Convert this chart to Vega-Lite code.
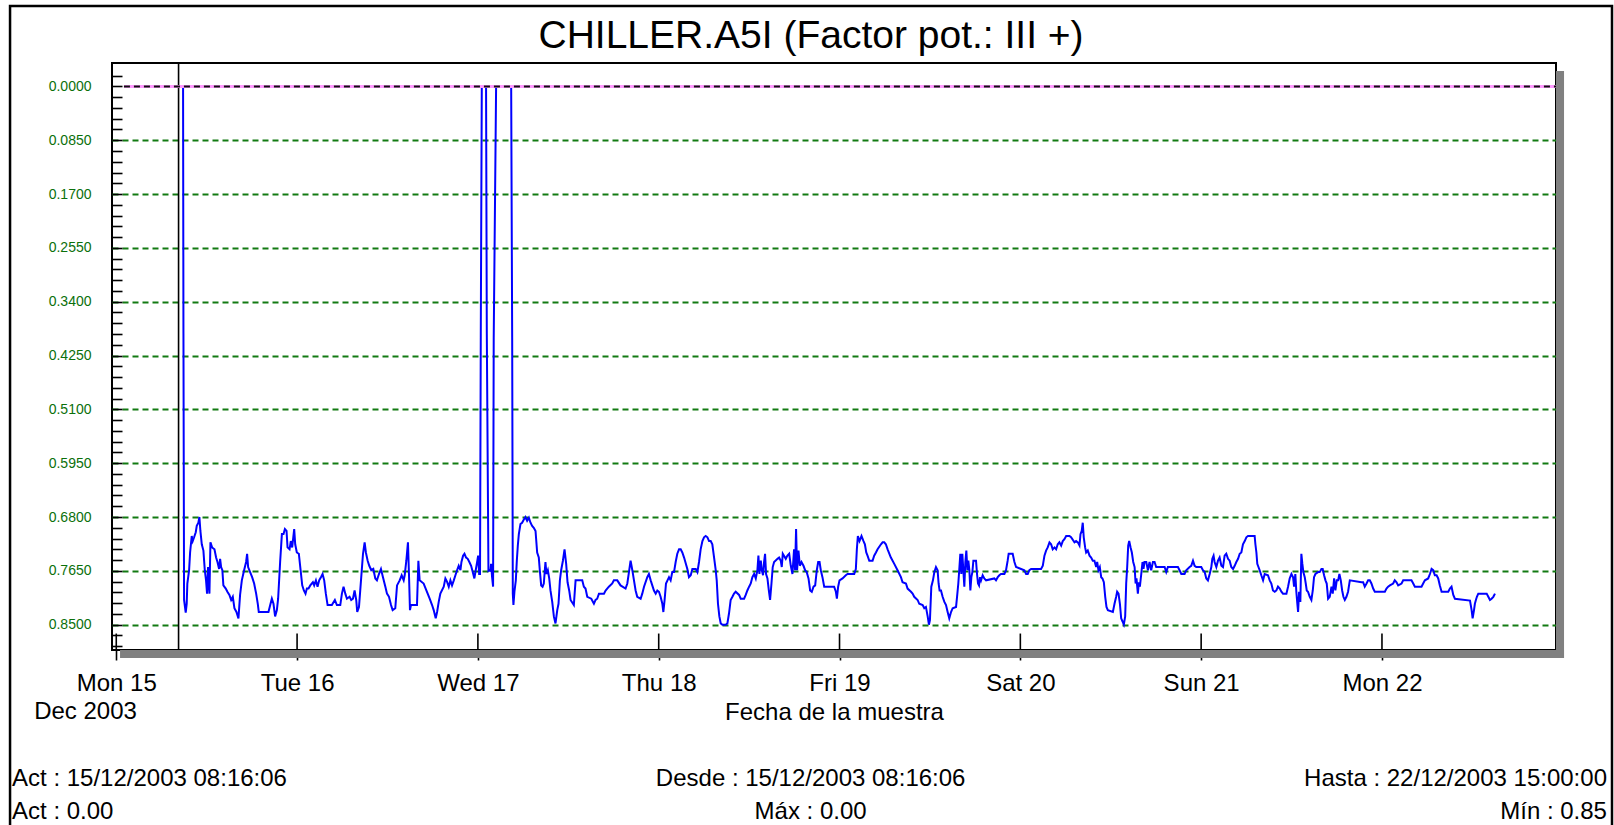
{
  "$schema": "https://vega.github.io/schema/vega-lite/v6.json",
  "autosize": {"type": "none"},
  "width": 1444,
  "height": 587,
  "padding": {"left": 112, "top": 63, "right": 58, "bottom": 175},
  "background": "white",
  "title": {"text": "CHILLER.A5I (Factor pot.: III +)", "fontSize": 39, "fontWeight": "normal", "font": "Liberation Sans", "color": "black", "anchor": "middle", "frame": "bounds", "baseline": "alphabetic", "offset": -82},
  "config": {
    "font": "Liberation Sans",
    "view": {"stroke": "black", "strokeWidth": 2}
  },
  "layer": [
    {
      "data": {"values": [{}]},
      "mark": {"type": "rect", "color": "#808080", "clip": false},
      "encoding": {
        "x": {"datum": {"year": 2003, "month": 12, "date": 22, "hours": 23, "minutes": 6}, "type": "temporal"},
        "x2": {"datum": {"year": 2003, "month": 12, "date": 23, "hours": 0, "minutes": 10}},
        "y": {"datum": -0.0244, "type": "quantitative"},
        "y2": {"datum": 0.9026}
      }
    },
    {
      "data": {"values": [{}]},
      "mark": {"type": "rect", "color": "#808080", "clip": false},
      "encoding": {
        "x": {"datum": {"year": 2003, "month": 12, "date": 15, "hours": 0, "minutes": 30}, "type": "temporal"},
        "x2": {"datum": {"year": 2003, "month": 12, "date": 23, "hours": 0, "minutes": 10}},
        "y": {"datum": 0.89, "type": "quantitative"},
        "y2": {"datum": 0.9026}
      }
    },
    {
      "data": {"values": [{}]},
      "mark": {"type": "rect", "fill": null, "fillOpacity": 0, "stroke": "black", "strokeWidth": 2.5, "clip": false},
      "encoding": {
        "x": {"datum": {"year": 2003, "month": 12, "date": 14, "hours": 9, "minutes": 54}, "type": "temporal"},
        "x2": {"datum": {"year": 2003, "month": 12, "date": 23, "hours": 6, "minutes": 32}},
        "y": {"datum": -0.127, "type": "quantitative"},
        "y2": {"datum": 1.174}
      }
    },
    {
      "data": {"values": [{"d": "2003-12-15T00:00"}, {"d": "2003-12-16T00:00"}, {"d": "2003-12-17T00:00"}, {"d": "2003-12-18T00:00"}, {"d": "2003-12-19T00:00"}, {"d": "2003-12-20T00:00"}, {"d": "2003-12-21T00:00"}, {"d": "2003-12-22T00:00"}]},
      "mark": {"type": "rule", "color": "black", "strokeWidth": 1.6, "clip": false},
      "encoding": {
        "x": {"field": "d", "type": "temporal"},
        "y": {"datum": 0.864, "type": "quantitative"},
        "y2": {"datum": 0.89}
      }
    },
    {
      "data": {"values": [{}]},
      "mark": {"type": "rule", "color": "black", "strokeWidth": 1.6},
      "encoding": {
        "x": {"datum": {"year": 2003, "month": 12, "date": 15, "hours": 8, "minutes": 16, "seconds": 6}, "type": "temporal"}
      }
    },
    {
      "data": {"values": [
        {"t":"2003-12-15T08:16:06","v":0},{"t":"2003-12-15T08:52","v":0},{"t":"2003-12-15T08:55","v":0.39},{"t":"2003-12-15T09:00","v":0.811},{"t":"2003-12-15T09:13","v":0.831},{"t":"2003-12-15T09:21","v":0.817},{"t":"2003-12-15T09:26","v":0.785},{"t":"2003-12-15T09:40","v":0.764},{"t":"2003-12-15T09:48","v":0.736},{"t":"2003-12-15T10:01","v":0.71},{"t":"2003-12-15T10:09","v":0.718},{"t":"2003-12-15T10:20","v":0.712},{"t":"2003-12-15T10:33","v":0.704},{"t":"2003-12-15T10:41","v":0.694},{"t":"2003-12-15T10:54","v":0.689},{"t":"2003-12-15T11:02","v":0.68},{"t":"2003-12-15T11:10","v":0.702},{"t":"2003-12-15T11:21","v":0.723},{"t":"2003-12-15T11:34","v":0.733},{"t":"2003-12-15T11:45","v":0.764},{"t":"2003-12-15T11:55","v":0.78},{"t":"2003-12-15T12:03","v":0.801},{"t":"2003-12-15T12:11","v":0.759},{"t":"2003-12-15T12:22","v":0.801},{"t":"2003-12-15T12:30","v":0.72},{"t":"2003-12-15T12:43","v":0.728},{"t":"2003-12-15T13:02","v":0.731},{"t":"2003-12-15T13:15","v":0.744},{"t":"2003-12-15T13:26","v":0.751},{"t":"2003-12-15T13:39","v":0.762},{"t":"2003-12-15T13:47","v":0.746},{"t":"2003-12-15T13:55","v":0.759},{"t":"2003-12-15T14:05","v":0.764},{"t":"2003-12-15T14:13","v":0.788},{"t":"2003-12-15T14:32","v":0.793},{"t":"2003-12-15T14:45","v":0.798},{"t":"2003-12-15T15:01","v":0.803},{"t":"2003-12-15T15:15","v":0.811},{"t":"2003-12-15T15:28","v":0.806},{"t":"2003-12-15T15:41","v":0.824},{"t":"2003-12-15T15:57","v":0.83},{"t":"2003-12-15T16:13","v":0.84},{"t":"2003-12-15T16:26","v":0.803},{"t":"2003-12-15T16:40","v":0.78},{"t":"2003-12-15T16:58","v":0.764},{"t":"2003-12-15T17:14","v":0.751},{"t":"2003-12-15T17:22","v":0.738},{"t":"2003-12-15T17:30","v":0.759},{"t":"2003-12-15T17:46","v":0.767},{"t":"2003-12-15T18:02","v":0.775},{"t":"2003-12-15T18:18","v":0.785},{"t":"2003-12-15T18:34","v":0.801},{"t":"2003-12-15T18:47","v":0.817},{"t":"2003-12-15T18:55","v":0.83},{"t":"2003-12-15T20:12","v":0.83},{"t":"2003-12-15T20:26","v":0.819},{"t":"2003-12-15T20:39","v":0.809},{"t":"2003-12-15T20:52","v":0.817},{"t":"2003-12-15T21:05","v":0.837},{"t":"2003-12-15T21:19","v":0.827},{"t":"2003-12-15T21:29","v":0.809},{"t":"2003-12-15T21:45","v":0.751},{"t":"2003-12-15T21:59","v":0.707},{"t":"2003-12-15T22:12","v":0.707},{"t":"2003-12-15T22:23","v":0.699},{"t":"2003-12-15T22:36","v":0.702},{"t":"2003-12-15T22:44","v":0.728},{"t":"2003-12-15T23:00","v":0.731},{"t":"2003-12-15T23:10","v":0.718},{"t":"2003-12-15T23:21","v":0.728},{"t":"2003-12-15T23:37","v":0.699},{"t":"2003-12-15T23:45","v":0.723},{"t":"2003-12-15T23:58","v":0.736},
        {"t":"2003-12-16T00:14","v":0.738},{"t":"2003-12-16T00:28","v":0.764},{"t":"2003-12-16T00:41","v":0.788},{"t":"2003-12-16T00:54","v":0.796},{"t":"2003-12-16T01:07","v":0.801},{"t":"2003-12-16T01:18","v":0.793},{"t":"2003-12-16T01:31","v":0.793},{"t":"2003-12-16T01:45","v":0.788},{"t":"2003-12-16T02:06","v":0.783},{"t":"2003-12-16T02:16","v":0.788},{"t":"2003-12-16T02:30","v":0.78},{"t":"2003-12-16T02:43","v":0.79},{"t":"2003-12-16T02:56","v":0.78},{"t":"2003-12-16T03:10","v":0.775},{"t":"2003-12-16T03:23","v":0.77},{"t":"2003-12-16T03:36","v":0.78},{"t":"2003-12-16T03:49","v":0.801},{"t":"2003-12-16T04:03","v":0.819},{"t":"2003-12-16T04:37","v":0.819},{"t":"2003-12-16T05:01","v":0.811},{"t":"2003-12-16T05:17","v":0.819},{"t":"2003-12-16T05:44","v":0.819},{"t":"2003-12-16T05:57","v":0.801},{"t":"2003-12-16T06:10","v":0.79},{"t":"2003-12-16T06:24","v":0.801},{"t":"2003-12-16T06:37","v":0.809},{"t":"2003-12-16T06:58","v":0.806},{"t":"2003-12-16T07:11","v":0.811},{"t":"2003-12-16T07:25","v":0.809},{"t":"2003-12-16T07:38","v":0.796},{"t":"2003-12-16T07:51","v":0.811},{"t":"2003-12-16T07:59","v":0.83},{"t":"2003-12-16T08:13","v":0.822},{"t":"2003-12-16T08:29","v":0.78},{"t":"2003-12-16T08:45","v":0.738},{"t":"2003-12-16T08:58","v":0.72},{"t":"2003-12-16T09:08","v":0.736},{"t":"2003-12-16T09:22","v":0.749},{"t":"2003-12-16T09:35","v":0.757},{"t":"2003-12-16T09:51","v":0.764},{"t":"2003-12-16T10:07","v":0.762},{"t":"2003-12-16T10:23","v":0.777},{"t":"2003-12-16T10:36","v":0.78},{"t":"2003-12-16T10:52","v":0.77},{"t":"2003-12-16T11:08","v":0.762},{"t":"2003-12-16T11:24","v":0.775},{"t":"2003-12-16T11:43","v":0.79},{"t":"2003-12-16T11:56","v":0.801},{"t":"2003-12-16T12:12","v":0.806},{"t":"2003-12-16T12:28","v":0.819},{"t":"2003-12-16T12:41","v":0.827},{"t":"2003-12-16T13:02","v":0.824},{"t":"2003-12-16T13:16","v":0.788},{"t":"2003-12-16T13:37","v":0.78},{"t":"2003-12-16T13:53","v":0.772},{"t":"2003-12-16T14:09","v":0.78},{"t":"2003-12-16T14:17","v":0.772},{"t":"2003-12-16T14:30","v":0.749},{"t":"2003-12-16T14:43","v":0.72},{"t":"2003-12-16T14:51","v":0.77},{"t":"2003-12-16T14:59","v":0.827},{"t":"2003-12-16T15:07","v":0.819},{"t":"2003-12-16T15:55","v":0.819},{"t":"2003-12-16T16:06","v":0.749},{"t":"2003-12-16T16:16","v":0.78},{"t":"2003-12-16T16:48","v":0.785},{"t":"2003-12-16T17:20","v":0.801},{"t":"2003-12-16T17:36","v":0.809},{"t":"2003-12-16T17:55","v":0.819},{"t":"2003-12-16T18:08","v":0.827},{"t":"2003-12-16T18:24","v":0.84},{"t":"2003-12-16T18:35","v":0.83},{"t":"2003-12-16T18:48","v":0.814},{"t":"2003-12-16T19:01","v":0.801},{"t":"2003-12-16T19:28","v":0.79},{"t":"2003-12-16T19:41","v":0.777},{"t":"2003-12-16T19:54","v":0.782},{"t":"2003-12-16T20:08","v":0.79},{"t":"2003-12-16T20:21","v":0.78},{"t":"2003-12-16T20:34","v":0.788},{"t":"2003-12-16T20:48","v":0.78},{"t":"2003-12-16T21:01","v":0.772},{"t":"2003-12-16T21:14","v":0.764},{"t":"2003-12-16T21:27","v":0.757},{"t":"2003-12-16T21:41","v":0.764},{"t":"2003-12-16T21:49","v":0.751},{"t":"2003-12-16T22:02","v":0.741},{"t":"2003-12-16T22:13","v":0.738},{"t":"2003-12-16T22:26","v":0.744},{"t":"2003-12-16T22:39","v":0.746},{"t":"2003-12-16T22:52","v":0.751},{"t":"2003-12-16T23:06","v":0.757},{"t":"2003-12-16T23:19","v":0.767},{"t":"2003-12-16T23:32","v":0.777},{"t":"2003-12-16T23:40","v":0.767},{"t":"2003-12-16T23:54","v":0.751},
        {"t":"2003-12-17T00:02","v":0.741},{"t":"2003-12-17T00:10","v":0.77},{"t":"2003-12-17T00:17","v":0.77},{"t":"2003-12-17T00:23","v":0.39},{"t":"2003-12-17T00:31","v":0},{"t":"2003-12-17T01:05","v":0},{"t":"2003-12-17T01:11","v":0.39},{"t":"2003-12-17T01:24","v":0.765},{"t":"2003-12-17T01:32","v":0.764},{"t":"2003-12-17T01:40","v":0.765},{"t":"2003-12-17T01:45","v":0.754},{"t":"2003-12-17T01:53","v":0.775},{"t":"2003-12-17T02:01","v":0.79},{"t":"2003-12-17T02:06","v":0.397},{"t":"2003-12-17T02:25","v":0},{"t":"2003-12-17T04:25","v":0},{"t":"2003-12-17T04:33","v":0.397},{"t":"2003-12-17T04:38","v":0.801},{"t":"2003-12-17T04:43","v":0.819},{"t":"2003-12-17T04:51","v":0.798},{"t":"2003-12-17T05:02","v":0.78},{"t":"2003-12-17T05:10","v":0.749},{"t":"2003-12-17T05:18","v":0.725},{"t":"2003-12-17T05:26","v":0.707},{"t":"2003-12-17T05:39","v":0.691},{"t":"2003-12-17T05:52","v":0.689},{"t":"2003-12-17T06:06","v":0.684},{"t":"2003-12-17T06:19","v":0.68},{"t":"2003-12-17T06:32","v":0.686},{"t":"2003-12-17T06:46","v":0.681},{"t":"2003-12-17T06:59","v":0.689},{"t":"2003-12-17T07:12","v":0.694},{"t":"2003-12-17T07:25","v":0.697},{"t":"2003-12-17T07:39","v":0.702},{"t":"2003-12-17T07:52","v":0.736},{"t":"2003-12-17T08:05","v":0.744},{"t":"2003-12-17T08:13","v":0.764},{"t":"2003-12-17T08:24","v":0.788},{"t":"2003-12-17T08:35","v":0.79},{"t":"2003-12-17T08:45","v":0.785},{"t":"2003-12-17T08:58","v":0.751},{"t":"2003-12-17T09:06","v":0.77},{"t":"2003-12-17T09:17","v":0.764},{"t":"2003-12-17T09:28","v":0.777},{"t":"2003-12-17T09:38","v":0.796},{"t":"2003-12-17T09:52","v":0.814},{"t":"2003-12-17T10:05","v":0.837},{"t":"2003-12-17T10:18","v":0.848},{"t":"2003-12-17T10:32","v":0.827},{"t":"2003-12-17T10:42","v":0.817},{"t":"2003-12-17T10:53","v":0.78},{"t":"2003-12-17T11:03","v":0.764},{"t":"2003-12-17T11:17","v":0.749},{"t":"2003-12-17T11:30","v":0.731},{"t":"2003-12-17T11:43","v":0.754},{"t":"2003-12-17T11:54","v":0.783},{"t":"2003-12-17T12:07","v":0.796},{"t":"2003-12-17T12:18","v":0.811},{"t":"2003-12-17T12:44","v":0.819},{"t":"2003-12-17T12:58","v":0.78},{"t":"2003-12-17T13:51","v":0.78},{"t":"2003-12-17T14:04","v":0.79},{"t":"2003-12-17T14:17","v":0.793},{"t":"2003-12-17T14:31","v":0.806},{"t":"2003-12-17T15:03","v":0.809},{"t":"2003-12-17T15:24","v":0.817},{"t":"2003-12-17T15:37","v":0.811},{"t":"2003-12-17T15:50","v":0.809},{"t":"2003-12-17T16:04","v":0.801},{"t":"2003-12-17T16:44","v":0.801},{"t":"2003-12-17T16:57","v":0.796},{"t":"2003-12-17T17:23","v":0.79},{"t":"2003-12-17T17:50","v":0.785},{"t":"2003-12-17T18:03","v":0.78},{"t":"2003-12-17T18:30","v":0.78},{"t":"2003-12-17T18:56","v":0.788},{"t":"2003-12-17T19:36","v":0.793},{"t":"2003-12-17T19:50","v":0.785},{"t":"2003-12-17T20:03","v":0.767},{"t":"2003-12-17T20:16","v":0.749},{"t":"2003-12-17T20:30","v":0.764},{"t":"2003-12-17T20:43","v":0.78},{"t":"2003-12-17T20:56","v":0.796},{"t":"2003-12-17T21:09","v":0.806},{"t":"2003-12-17T21:36","v":0.809},{"t":"2003-12-17T21:49","v":0.801},{"t":"2003-12-17T22:03","v":0.79},{"t":"2003-12-17T22:29","v":0.775},{"t":"2003-12-17T22:42","v":0.77},{"t":"2003-12-17T22:56","v":0.78},{"t":"2003-12-17T23:22","v":0.796},{"t":"2003-12-17T23:36","v":0.801},{"t":"2003-12-17T23:49","v":0.796},
        {"t":"2003-12-18T00:02","v":0.798},{"t":"2003-12-18T00:15","v":0.806},{"t":"2003-12-18T00:29","v":0.817},{"t":"2003-12-18T00:37","v":0.83},{"t":"2003-12-18T00:47","v":0.811},{"t":"2003-12-18T00:58","v":0.785},{"t":"2003-12-18T01:22","v":0.775},{"t":"2003-12-18T01:35","v":0.78},{"t":"2003-12-18T01:48","v":0.767},{"t":"2003-12-18T02:02","v":0.767},{"t":"2003-12-18T02:15","v":0.751},{"t":"2003-12-18T02:28","v":0.738},{"t":"2003-12-18T02:42","v":0.731},{"t":"2003-12-18T02:55","v":0.731},{"t":"2003-12-18T03:08","v":0.736},{"t":"2003-12-18T03:22","v":0.744},{"t":"2003-12-18T03:48","v":0.762},{"t":"2003-12-18T04:01","v":0.775},{"t":"2003-12-18T04:15","v":0.772},{"t":"2003-12-18T04:28","v":0.762},{"t":"2003-12-18T04:55","v":0.762},{"t":"2003-12-18T05:08","v":0.767},{"t":"2003-12-18T05:21","v":0.751},{"t":"2003-12-18T05:34","v":0.731},{"t":"2003-12-18T05:48","v":0.718},{"t":"2003-12-18T06:01","v":0.712},{"t":"2003-12-18T06:14","v":0.71},{"t":"2003-12-18T06:28","v":0.712},{"t":"2003-12-18T06:41","v":0.718},{"t":"2003-12-18T06:54","v":0.718},{"t":"2003-12-18T07:07","v":0.723},{"t":"2003-12-18T07:21","v":0.744},{"t":"2003-12-18T07:34","v":0.764},{"t":"2003-12-18T07:42","v":0.78},{"t":"2003-12-18T07:52","v":0.817},{"t":"2003-12-18T08:03","v":0.837},{"t":"2003-12-18T08:14","v":0.848},{"t":"2003-12-18T08:27","v":0.85},{"t":"2003-12-18T08:54","v":0.85},{"t":"2003-12-18T09:07","v":0.848},{"t":"2003-12-18T09:20","v":0.832},{"t":"2003-12-18T09:33","v":0.811},{"t":"2003-12-18T09:47","v":0.806},{"t":"2003-12-18T10:00","v":0.801},{"t":"2003-12-18T10:13","v":0.798},{"t":"2003-12-18T10:40","v":0.803},{"t":"2003-12-18T10:53","v":0.809},{"t":"2003-12-18T11:20","v":0.809},{"t":"2003-12-18T11:33","v":0.803},{"t":"2003-12-18T11:46","v":0.796},{"t":"2003-12-18T12:00","v":0.79},{"t":"2003-12-18T12:13","v":0.785},{"t":"2003-12-18T12:26","v":0.775},{"t":"2003-12-18T12:40","v":0.77},{"t":"2003-12-18T12:53","v":0.777},{"t":"2003-12-18T13:06","v":0.764},{"t":"2003-12-18T13:14","v":0.741},{"t":"2003-12-18T13:22","v":0.77},{"t":"2003-12-18T13:33","v":0.749},{"t":"2003-12-18T13:41","v":0.764},{"t":"2003-12-18T13:51","v":0.772},{"t":"2003-12-18T13:59","v":0.751},{"t":"2003-12-18T14:07","v":0.738},{"t":"2003-12-18T14:15","v":0.77},{"t":"2003-12-18T14:26","v":0.777},{"t":"2003-12-18T14:37","v":0.796},{"t":"2003-12-18T14:47","v":0.811},{"t":"2003-12-18T14:58","v":0.785},{"t":"2003-12-18T15:08","v":0.759},{"t":"2003-12-18T15:19","v":0.751},{"t":"2003-12-18T15:46","v":0.746},{"t":"2003-12-18T15:59","v":0.744},{"t":"2003-12-18T16:12","v":0.749},{"t":"2003-12-18T16:20","v":0.759},{"t":"2003-12-18T16:28","v":0.738},{"t":"2003-12-18T16:52","v":0.746},{"t":"2003-12-18T17:05","v":0.741},{"t":"2003-12-18T17:19","v":0.738},{"t":"2003-12-18T17:32","v":0.757},{"t":"2003-12-18T17:45","v":0.77},{"t":"2003-12-18T17:58","v":0.731},{"t":"2003-12-18T18:06","v":0.764},{"t":"2003-12-18T18:14","v":0.699},{"t":"2003-12-18T18:22","v":0.764},{"t":"2003-12-18T18:33","v":0.733},{"t":"2003-12-18T18:44","v":0.757},{"t":"2003-12-18T18:57","v":0.751},{"t":"2003-12-18T19:13","v":0.757},{"t":"2003-12-18T19:26","v":0.764},{"t":"2003-12-18T19:39","v":0.767},{"t":"2003-12-18T19:53","v":0.777},{"t":"2003-12-18T20:06","v":0.796},{"t":"2003-12-18T20:19","v":0.798},{"t":"2003-12-18T20:33","v":0.79},{"t":"2003-12-18T20:46","v":0.788},{"t":"2003-12-18T20:59","v":0.764},{"t":"2003-12-18T21:10","v":0.751},{"t":"2003-12-18T21:21","v":0.751},{"t":"2003-12-18T21:31","v":0.764},{"t":"2003-12-18T21:44","v":0.775},{"t":"2003-12-18T21:58","v":0.79},{"t":"2003-12-18T23:17","v":0.79},{"t":"2003-12-18T23:31","v":0.798},{"t":"2003-12-18T23:39","v":0.809},{"t":"2003-12-18T23:49","v":0.79},
        {"t":"2003-12-19T00:00","v":0.78},{"t":"2003-12-19T00:24","v":0.777},{"t":"2003-12-19T00:50","v":0.772},{"t":"2003-12-19T01:04","v":0.77},{"t":"2003-12-19T01:57","v":0.77},{"t":"2003-12-19T02:10","v":0.762},{"t":"2003-12-19T02:18","v":0.731},{"t":"2003-12-19T02:26","v":0.71},{"t":"2003-12-19T02:39","v":0.718},{"t":"2003-12-19T02:55","v":0.71},{"t":"2003-12-19T03:11","v":0.718},{"t":"2003-12-19T03:22","v":0.723},{"t":"2003-12-19T03:33","v":0.736},{"t":"2003-12-19T03:43","v":0.741},{"t":"2003-12-19T03:57","v":0.749},{"t":"2003-12-19T04:23","v":0.749},{"t":"2003-12-19T04:36","v":0.741},{"t":"2003-12-19T04:50","v":0.736},{"t":"2003-12-19T05:03","v":0.731},{"t":"2003-12-19T05:30","v":0.723},{"t":"2003-12-19T05:43","v":0.72},{"t":"2003-12-19T05:56","v":0.72},{"t":"2003-12-19T06:09","v":0.723},{"t":"2003-12-19T06:23","v":0.731},{"t":"2003-12-19T06:49","v":0.744},{"t":"2003-12-19T07:16","v":0.754},{"t":"2003-12-19T07:42","v":0.764},{"t":"2003-12-19T08:09","v":0.775},{"t":"2003-12-19T08:22","v":0.783},{"t":"2003-12-19T08:49","v":0.785},{"t":"2003-12-19T09:02","v":0.793},{"t":"2003-12-19T09:29","v":0.798},{"t":"2003-12-19T09:42","v":0.801},{"t":"2003-12-19T09:55","v":0.806},{"t":"2003-12-19T10:22","v":0.811},{"t":"2003-12-19T10:35","v":0.817},{"t":"2003-12-19T11:02","v":0.819},{"t":"2003-12-19T11:15","v":0.824},{"t":"2003-12-19T11:28","v":0.822},{"t":"2003-12-19T11:42","v":0.837},{"t":"2003-12-19T11:52","v":0.85},{"t":"2003-12-19T12:00","v":0.843},{"t":"2003-12-19T12:11","v":0.79},{"t":"2003-12-19T12:24","v":0.78},{"t":"2003-12-19T12:35","v":0.767},{"t":"2003-12-19T12:48","v":0.759},{"t":"2003-12-19T13:01","v":0.764},{"t":"2003-12-19T13:09","v":0.785},{"t":"2003-12-19T13:17","v":0.796},{"t":"2003-12-19T13:28","v":0.796},{"t":"2003-12-19T13:41","v":0.806},{"t":"2003-12-19T13:55","v":0.814},{"t":"2003-12-19T14:08","v":0.819},{"t":"2003-12-19T14:21","v":0.83},{"t":"2003-12-19T14:34","v":0.84},{"t":"2003-12-19T14:48","v":0.83},{"t":"2003-12-19T15:01","v":0.824},{"t":"2003-12-19T15:28","v":0.822},{"t":"2003-12-19T15:36","v":0.806},{"t":"2003-12-19T15:46","v":0.785},{"t":"2003-12-19T15:54","v":0.762},{"t":"2003-12-19T16:02","v":0.738},{"t":"2003-12-19T16:10","v":0.77},{"t":"2003-12-19T16:18","v":0.738},{"t":"2003-12-19T16:26","v":0.764},{"t":"2003-12-19T16:34","v":0.79},{"t":"2003-12-19T16:42","v":0.751},{"t":"2003-12-19T16:50","v":0.733},{"t":"2003-12-19T16:58","v":0.764},{"t":"2003-12-19T17:06","v":0.749},{"t":"2003-12-19T17:14","v":0.764},{"t":"2003-12-19T17:22","v":0.796},{"t":"2003-12-19T17:30","v":0.775},{"t":"2003-12-19T17:38","v":0.767},{"t":"2003-12-19T17:46","v":0.749},{"t":"2003-12-19T18:07","v":0.749},{"t":"2003-12-19T18:15","v":0.77},{"t":"2003-12-19T18:23","v":0.785},{"t":"2003-12-19T18:31","v":0.788},{"t":"2003-12-19T18:39","v":0.775},{"t":"2003-12-19T18:47","v":0.78},{"t":"2003-12-19T19:00","v":0.772},{"t":"2003-12-19T19:13","v":0.777},{"t":"2003-12-19T19:27","v":0.78},{"t":"2003-12-19T20:33","v":0.777},{"t":"2003-12-19T20:46","v":0.78},{"t":"2003-12-19T21:00","v":0.775},{"t":"2003-12-19T21:13","v":0.772},{"t":"2003-12-19T21:26","v":0.77},{"t":"2003-12-19T21:53","v":0.77},{"t":"2003-12-19T22:06","v":0.764},{"t":"2003-12-19T22:19","v":0.749},{"t":"2003-12-19T22:27","v":0.738},{"t":"2003-12-19T22:59","v":0.738},{"t":"2003-12-19T23:13","v":0.751},{"t":"2003-12-19T23:26","v":0.759},
        {"t":"2003-12-20T00:06","v":0.762},{"t":"2003-12-20T00:32","v":0.764},{"t":"2003-12-20T00:46","v":0.77},{"t":"2003-12-20T00:59","v":0.77},{"t":"2003-12-20T01:12","v":0.764},{"t":"2003-12-20T01:26","v":0.762},{"t":"2003-12-20T02:45","v":0.762},{"t":"2003-12-20T02:59","v":0.757},{"t":"2003-12-20T03:12","v":0.741},{"t":"2003-12-20T03:25","v":0.733},{"t":"2003-12-20T03:38","v":0.728},{"t":"2003-12-20T03:52","v":0.72},{"t":"2003-12-20T04:05","v":0.723},{"t":"2003-12-20T04:18","v":0.731},{"t":"2003-12-20T04:32","v":0.728},{"t":"2003-12-20T04:45","v":0.731},{"t":"2003-12-20T04:58","v":0.723},{"t":"2003-12-20T05:11","v":0.72},{"t":"2003-12-20T05:25","v":0.725},{"t":"2003-12-20T05:38","v":0.718},{"t":"2003-12-20T05:51","v":0.715},{"t":"2003-12-20T06:05","v":0.71},{"t":"2003-12-20T06:31","v":0.71},{"t":"2003-12-20T06:44","v":0.712},{"t":"2003-12-20T07:11","v":0.72},{"t":"2003-12-20T07:24","v":0.718},{"t":"2003-12-20T07:38","v":0.72},{"t":"2003-12-20T07:51","v":0.725},{"t":"2003-12-20T07:59","v":0.707},{"t":"2003-12-20T08:09","v":0.702},{"t":"2003-12-20T08:17","v":0.689},{"t":"2003-12-20T08:25","v":0.712},{"t":"2003-12-20T08:36","v":0.728},{"t":"2003-12-20T08:44","v":0.736},{"t":"2003-12-20T08:57","v":0.733},{"t":"2003-12-20T09:11","v":0.741},{"t":"2003-12-20T09:24","v":0.744},{"t":"2003-12-20T09:37","v":0.749},{"t":"2003-12-20T09:50","v":0.749},{"t":"2003-12-20T10:04","v":0.759},{"t":"2003-12-20T10:12","v":0.751},{"t":"2003-12-20T10:22","v":0.764},{"t":"2003-12-20T10:33","v":0.759},{"t":"2003-12-20T10:44","v":0.775},{"t":"2003-12-20T10:54","v":0.777},{"t":"2003-12-20T11:05","v":0.783},{"t":"2003-12-20T11:16","v":0.806},{"t":"2003-12-20T11:26","v":0.822},{"t":"2003-12-20T11:37","v":0.827},{"t":"2003-12-20T12:17","v":0.83},{"t":"2003-12-20T12:30","v":0.817},{"t":"2003-12-20T12:43","v":0.806},{"t":"2003-12-20T12:51","v":0.798},{"t":"2003-12-20T13:02","v":0.801},{"t":"2003-12-20T13:13","v":0.817},{"t":"2003-12-20T13:23","v":0.84},{"t":"2003-12-20T13:34","v":0.845},{"t":"2003-12-20T13:44","v":0.85},{"t":"2003-12-20T13:55","v":0.837},{"t":"2003-12-20T14:03","v":0.785},{"t":"2003-12-20T14:11","v":0.759},{"t":"2003-12-20T14:19","v":0.725},{"t":"2003-12-20T14:27","v":0.718},{"t":"2003-12-20T14:38","v":0.728},{"t":"2003-12-20T14:48","v":0.736},{"t":"2003-12-20T14:59","v":0.751},{"t":"2003-12-20T15:10","v":0.759},{"t":"2003-12-20T15:18","v":0.785},{"t":"2003-12-20T15:25","v":0.777},{"t":"2003-12-20T15:36","v":0.801},{"t":"2003-12-20T15:44","v":0.783},{"t":"2003-12-20T15:52","v":0.79},{"t":"2003-12-20T16:03","v":0.77},{"t":"2003-12-20T16:13","v":0.751},{"t":"2003-12-20T16:21","v":0.762},{"t":"2003-12-20T16:29","v":0.751},{"t":"2003-12-20T16:43","v":0.751},{"t":"2003-12-20T16:56","v":0.764},{"t":"2003-12-20T17:09","v":0.751},{"t":"2003-12-20T17:22","v":0.764},{"t":"2003-12-20T17:36","v":0.751},{"t":"2003-12-20T17:49","v":0.751},{"t":"2003-12-20T18:02","v":0.759},{"t":"2003-12-20T19:09","v":0.759},{"t":"2003-12-20T19:22","v":0.767},{"t":"2003-12-20T19:35","v":0.759},{"t":"2003-12-20T20:55","v":0.759},{"t":"2003-12-20T21:08","v":0.764},{"t":"2003-12-20T21:22","v":0.77},{"t":"2003-12-20T21:48","v":0.77},{"t":"2003-12-20T22:01","v":0.764},{"t":"2003-12-20T22:28","v":0.759},{"t":"2003-12-20T22:41","v":0.757},{"t":"2003-12-20T22:55","v":0.749},{"t":"2003-12-20T23:08","v":0.757},{"t":"2003-12-20T23:21","v":0.759},
        {"t":"2003-12-21T00:01","v":0.759},{"t":"2003-12-21T00:14","v":0.764},{"t":"2003-12-21T00:28","v":0.767},{"t":"2003-12-21T00:41","v":0.777},{"t":"2003-12-21T00:54","v":0.78},{"t":"2003-12-21T01:08","v":0.77},{"t":"2003-12-21T01:21","v":0.759},{"t":"2003-12-21T01:29","v":0.746},{"t":"2003-12-21T01:39","v":0.741},{"t":"2003-12-21T01:47","v":0.751},{"t":"2003-12-21T02:01","v":0.759},{"t":"2003-12-21T02:14","v":0.749},{"t":"2003-12-21T02:27","v":0.744},{"t":"2003-12-21T02:41","v":0.757},{"t":"2003-12-21T02:54","v":0.759},{"t":"2003-12-21T03:07","v":0.741},{"t":"2003-12-21T03:20","v":0.738},{"t":"2003-12-21T03:34","v":0.746},{"t":"2003-12-21T03:47","v":0.749},{"t":"2003-12-21T04:00","v":0.759},{"t":"2003-12-21T04:14","v":0.762},{"t":"2003-12-21T04:27","v":0.757},{"t":"2003-12-21T04:40","v":0.751},{"t":"2003-12-21T04:54","v":0.746},{"t":"2003-12-21T05:07","v":0.738},{"t":"2003-12-21T05:20","v":0.736},{"t":"2003-12-21T05:33","v":0.723},{"t":"2003-12-21T05:47","v":0.718},{"t":"2003-12-21T06:00","v":0.712},{"t":"2003-12-21T06:13","v":0.71},{"t":"2003-12-21T06:27","v":0.71},{"t":"2003-12-21T06:40","v":0.71},{"t":"2003-12-21T07:06","v":0.71},{"t":"2003-12-21T07:12","v":0.723},{"t":"2003-12-21T07:20","v":0.736},{"t":"2003-12-21T07:27","v":0.754},{"t":"2003-12-21T07:46","v":0.764},{"t":"2003-12-21T07:59","v":0.772},{"t":"2003-12-21T08:13","v":0.78},{"t":"2003-12-21T08:26","v":0.77},{"t":"2003-12-21T08:52","v":0.772},{"t":"2003-12-21T09:06","v":0.78},{"t":"2003-12-21T09:19","v":0.785},{"t":"2003-12-21T09:32","v":0.796},{"t":"2003-12-21T09:46","v":0.798},{"t":"2003-12-21T09:59","v":0.796},{"t":"2003-12-21T10:12","v":0.79},{"t":"2003-12-21T10:26","v":0.793},{"t":"2003-12-21T10:39","v":0.798},{"t":"2003-12-21T10:52","v":0.801},{"t":"2003-12-21T11:19","v":0.801},{"t":"2003-12-21T11:32","v":0.79},{"t":"2003-12-21T11:45","v":0.777},{"t":"2003-12-21T11:59","v":0.77},{"t":"2003-12-21T12:12","v":0.775},{"t":"2003-12-21T12:20","v":0.79},{"t":"2003-12-21T12:30","v":0.77},{"t":"2003-12-21T12:38","v":0.798},{"t":"2003-12-21T12:46","v":0.817},{"t":"2003-12-21T12:52","v":0.83},{"t":"2003-12-21T13:00","v":0.798},{"t":"2003-12-21T13:10","v":0.814},{"t":"2003-12-21T13:18","v":0.738},{"t":"2003-12-21T13:26","v":0.754},{"t":"2003-12-21T13:34","v":0.767},{"t":"2003-12-21T13:45","v":0.775},{"t":"2003-12-21T13:53","v":0.785},{"t":"2003-12-21T14:01","v":0.796},{"t":"2003-12-21T14:11","v":0.798},{"t":"2003-12-21T14:25","v":0.806},{"t":"2003-12-21T14:38","v":0.811},{"t":"2003-12-21T14:49","v":0.796},{"t":"2003-12-21T14:59","v":0.775},{"t":"2003-12-21T15:10","v":0.77},{"t":"2003-12-21T15:31","v":0.767},{"t":"2003-12-21T15:44","v":0.767},{"t":"2003-12-21T15:58","v":0.762},{"t":"2003-12-21T16:08","v":0.762},{"t":"2003-12-21T16:19","v":0.772},{"t":"2003-12-21T16:30","v":0.78},{"t":"2003-12-21T16:40","v":0.785},{"t":"2003-12-21T16:51","v":0.809},{"t":"2003-12-21T17:04","v":0.806},{"t":"2003-12-21T17:18","v":0.79},{"t":"2003-12-21T17:28","v":0.801},{"t":"2003-12-21T17:39","v":0.777},{"t":"2003-12-21T17:49","v":0.796},{"t":"2003-12-21T18:00","v":0.78},{"t":"2003-12-21T18:11","v":0.78},{"t":"2003-12-21T18:21","v":0.77},{"t":"2003-12-21T18:32","v":0.78},{"t":"2003-12-21T18:43","v":0.796},{"t":"2003-12-21T18:53","v":0.806},{"t":"2003-12-21T19:04","v":0.811},{"t":"2003-12-21T19:17","v":0.806},{"t":"2003-12-21T19:30","v":0.798},{"t":"2003-12-21T19:44","v":0.78},{"t":"2003-12-21T21:17","v":0.783},{"t":"2003-12-21T21:30","v":0.783},{"t":"2003-12-21T21:43","v":0.79},{"t":"2003-12-21T21:57","v":0.785},{"t":"2003-12-21T22:10","v":0.78},{"t":"2003-12-21T22:23","v":0.78},{"t":"2003-12-21T22:36","v":0.785},{"t":"2003-12-21T22:50","v":0.793},{"t":"2003-12-21T23:03","v":0.798},
        {"t":"2003-12-22T00:23","v":0.798},{"t":"2003-12-22T00:36","v":0.793},{"t":"2003-12-22T00:49","v":0.79},{"t":"2003-12-22T01:03","v":0.788},{"t":"2003-12-22T01:29","v":0.785},{"t":"2003-12-22T01:42","v":0.78},{"t":"2003-12-22T01:56","v":0.783},{"t":"2003-12-22T02:09","v":0.788},{"t":"2003-12-22T02:36","v":0.785},{"t":"2003-12-22T02:49","v":0.78},{"t":"2003-12-22T03:55","v":0.78},{"t":"2003-12-22T04:09","v":0.785},{"t":"2003-12-22T04:22","v":0.79},{"t":"2003-12-22T05:15","v":0.79},{"t":"2003-12-22T05:28","v":0.785},{"t":"2003-12-22T05:42","v":0.78},{"t":"2003-12-22T06:08","v":0.777},{"t":"2003-12-22T06:22","v":0.77},{"t":"2003-12-22T06:35","v":0.762},{"t":"2003-12-22T06:48","v":0.764},{"t":"2003-12-22T07:01","v":0.772},{"t":"2003-12-22T07:15","v":0.772},{"t":"2003-12-22T07:28","v":0.777},{"t":"2003-12-22T07:41","v":0.788},{"t":"2003-12-22T07:55","v":0.798},{"t":"2003-12-22T08:48","v":0.798},{"t":"2003-12-22T09:01","v":0.793},{"t":"2003-12-22T09:14","v":0.79},{"t":"2003-12-22T09:28","v":0.803},{"t":"2003-12-22T09:41","v":0.809},{"t":"2003-12-22T11:41","v":0.812},{"t":"2003-12-22T11:54","v":0.827},{"t":"2003-12-22T12:02","v":0.84},{"t":"2003-12-22T12:13","v":0.827},{"t":"2003-12-22T12:20","v":0.817},{"t":"2003-12-22T12:28","v":0.811},{"t":"2003-12-22T12:36","v":0.806},{"t":"2003-12-22T12:47","v":0.801},{"t":"2003-12-22T13:54","v":0.801},{"t":"2003-12-22T14:07","v":0.806},{"t":"2003-12-22T14:20","v":0.811},{"t":"2003-12-22T14:33","v":0.809},{"t":"2003-12-22T14:47","v":0.806},{"t":"2003-12-22T15:00","v":0.801}
      ]},
      "mark": {"type": "line", "color": "#0000ff", "strokeWidth": 2},
      "encoding": {
        "x": {
          "field": "t", "type": "temporal",
          "scale": {"domain": [{"year": 2003, "month": 12, "date": 14, "hours": 23, "minutes": 26}, {"year": 2003, "month": 12, "date": 22, "hours": 23, "minutes": 6}], "nice": false},
          "axis": {
            "values": [{"year": 2003, "month": 12, "date": 15}, {"year": 2003, "month": 12, "date": 16}, {"year": 2003, "month": 12, "date": 17}, {"year": 2003, "month": 12, "date": 18}, {"year": 2003, "month": 12, "date": 19}, {"year": 2003, "month": 12, "date": 20}, {"year": 2003, "month": 12, "date": 21}, {"year": 2003, "month": 12, "date": 22}],
            "tickCount": 100,
            "format": "%a %d",
            "labelFont": "Liberation Sans", "labelFontSize": 24, "labelColor": "black",
            "tickSize": 10, "tickColor": "black", "tickWidth": 1.6,
            "labelPadding": 11, "domain": false, "grid": false,
            "labelOverlap": false, "labelFlush": false, "labelBound": false,
            "title": "Fecha de la muestra", "titleFont": "Liberation Sans", "titleFontSize": 24, "titleFontWeight": "normal", "titleColor": "black", "titlePadding": 5
          }
        },
        "y": {
          "field": "v", "type": "quantitative",
          "scale": {"domain": [-0.037, 0.89], "reverse": true, "zero": false, "nice": false},
          "axis": {
            "values": [-0.017, 0, 0.017, 0.034, 0.051, 0.068, 0.085, 0.102, 0.119, 0.136, 0.153, 0.17, 0.187, 0.204, 0.221, 0.238, 0.255, 0.272, 0.289, 0.306, 0.323, 0.34, 0.357, 0.374, 0.391, 0.408, 0.425, 0.442, 0.459, 0.476, 0.493, 0.51, 0.527, 0.544, 0.561, 0.578, 0.595, 0.612, 0.629, 0.646, 0.663, 0.68, 0.697, 0.714, 0.731, 0.748, 0.765, 0.782, 0.799, 0.816, 0.833, 0.85, 0.867, 0.884],
            "tickCount": 200,
            "labelExpr": "abs(datum.value/0.085 - round(datum.value/0.085)) < 0.001 && datum.value > -0.01 && datum.value < 0.86 ? format(datum.value, '.4f') : ''",
            "labelFont": "Liberation Sans", "labelFontSize": 14, "labelColor": "#0b700b",
            "labelPadding": 31, "tickSize": -10, "tickColor": "black", "tickWidth": 1.6,
            "domain": false, "grid": true, "gridColor": "#127a12", "gridDash": [6, 4], "gridWidth": 2,
            "gridOpacity": {"condition": {"test": "abs(datum.value/0.085 - round(datum.value/0.085)) < 0.001 && datum.value > 0.05 && datum.value < 0.86", "value": 1}, "value": 0},
            "labelOverlap": false, "labelBound": false, "labelFlush": false,
            "title": null
          }
        }
      }
    },
    {
      "data": {"values": [{}]},
      "mark": {"type": "rule", "color": "#ff99ff", "strokeWidth": 3, "clip": false},
      "encoding": {
        "x": {"datum": {"year": 2003, "month": 12, "date": 15, "hours": 1, "minutes": 1}, "type": "temporal"},
        "x2": {"datum": {"year": 2003, "month": 12, "date": 22, "hours": 23, "minutes": 6}},
        "y": {"datum": 0, "type": "quantitative"}
      }
    },
    {
      "data": {"values": [{}]},
      "mark": {"type": "rule", "color": "#101010", "strokeWidth": 2, "strokeDash": [6, 4], "clip": false},
      "encoding": {
        "x": {"datum": {"year": 2003, "month": 12, "date": 15, "hours": 1, "minutes": 1}, "type": "temporal"},
        "x2": {"datum": {"year": 2003, "month": 12, "date": 22, "hours": 23, "minutes": 6}},
        "y": {"datum": 0, "type": "quantitative"}
      }
    },
    {
      "data": {"values": [{}]},
      "mark": {"type": "text", "font": "Liberation Sans", "fontSize": 24, "color": "black", "align": "center", "baseline": "alphabetic", "clip": false},
      "encoding": {
        "x": {"datum": {"year": 2003, "month": 12, "date": 14, "hours": 19, "minutes": 55}, "type": "temporal"},
        "y": {"datum": 0.999, "type": "quantitative"},
        "text": {"value": "Dec 2003"}
      }
    },
    {
      "data": {"values": [{}]},
      "mark": {"type": "text", "font": "Liberation Sans", "fontSize": 24, "color": "black", "align": "left", "baseline": "alphabetic", "lineHeight": 33, "clip": false},
      "encoding": {
        "x": {"datum": {"year": 2003, "month": 12, "date": 14, "hours": 10, "minutes": 10}, "type": "temporal"},
        "y": {"datum": 1.1048, "type": "quantitative"},
        "text": {"value": ["Act : 15/12/2003 08:16:06", "Act : 0.00"]}
      }
    },
    {
      "data": {"values": [{}]},
      "mark": {"type": "text", "font": "Liberation Sans", "fontSize": 24, "color": "black", "align": "center", "baseline": "alphabetic", "lineHeight": 33, "clip": false},
      "encoding": {
        "x": {"datum": {"year": 2003, "month": 12, "date": 18, "hours": 20, "minutes": 10}, "type": "temporal"},
        "y": {"datum": 1.1048, "type": "quantitative"},
        "text": {"value": ["Desde : 15/12/2003 08:16:06", "Máx : 0.00"]}
      }
    },
    {
      "data": {"values": [{}]},
      "mark": {"type": "text", "font": "Liberation Sans", "fontSize": 24, "color": "black", "align": "right", "baseline": "alphabetic", "lineHeight": 33, "clip": false},
      "encoding": {
        "x": {"datum": {"year": 2003, "month": 12, "date": 23, "hours": 5, "minutes": 52}, "type": "temporal"},
        "y": {"datum": 1.1048, "type": "quantitative"},
        "text": {"value": ["Hasta : 22/12/2003 15:00:00", "Mín : 0.85"]}
      }
    }
  ]
}
